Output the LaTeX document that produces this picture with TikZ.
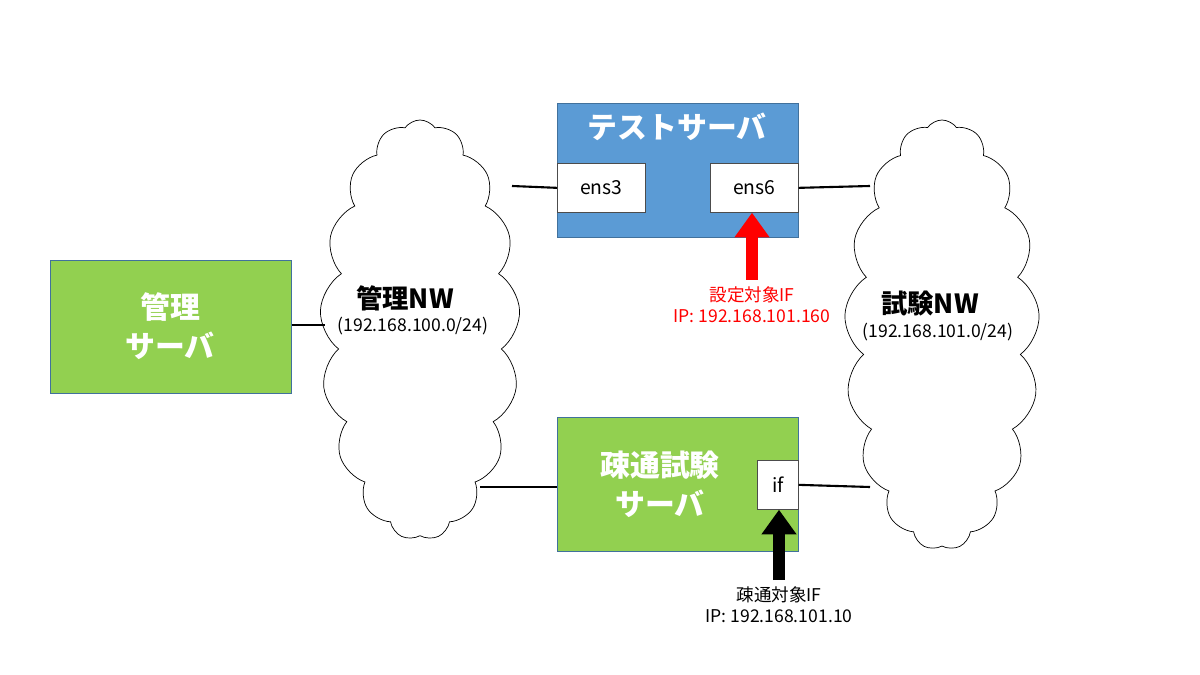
\documentclass[tikz,border=0pt]{standalone}
\usepackage{fontspec}
\setmainfont{Noto Sans CJK JP}
\usetikzlibrary{shapes.symbols,arrows.meta}
\definecolor{kgreen}{HTML}{92D050}
\definecolor{kblue}{HTML}{5B9BD5}
\definecolor{kedge}{HTML}{41719C}
\tikzset{
  box/.style={draw=kedge, anchor=north west, inner sep=0pt},
  port/.style={draw=black!70, fill=white, anchor=north west, inner sep=0pt, font=\fontsize{11}{13}\selectfont},
  title/.style={text=white, font=\bfseries\fontsize{17}{22}\selectfont, align=center},
  nw/.style={cloud, cloud puffs=17, cloud puff arc=110, draw, aspect=0.45, inner sep=0pt},
  link/.style={line width=1.2pt},
  bigarrow/.style={line width=7pt, -{Triangle[length=14pt,width=19pt]}},
  note/.style={font=\fontsize{10}{12}\selectfont, align=center}
}
\begin{document}
\begin{tikzpicture}[x=0.02cm, y=-0.02cm]
\useasboundingbox (0,0) rectangle (1200,675);

% servers
\node[box, fill=kgreen, minimum width=241*0.02cm, minimum height=133*0.02cm] (mgmt) at (50,260) {};
\node[title] at (170,326) {管理\\サーバ};
\node[box, fill=kblue, minimum width=241*0.02cm, minimum height=134*0.02cm] (test) at (557,103) {};
\node[title] at (677,127) {テストサーバ};
\node[port, minimum width=88*0.02cm, minimum height=49*0.02cm] (ens3) at (557,163) {ens3};
\node[port, minimum width=88*0.02cm, minimum height=49*0.02cm] (ens6) at (710,163) {ens6};
\node[box, fill=kgreen, minimum width=241*0.02cm, minimum height=134*0.02cm] (ping) at (557,417) {};
\node[title] at (660,484) {疎通試験\\サーバ};
\node[port, minimum width=41*0.02cm, minimum height=49*0.02cm] (if) at (757,460) {if};

% networks
\node[nw, minimum width=200*0.02cm, minimum height=420*0.02cm] (mnw) at (420,330) {};
\node[font=\bfseries\fontsize{15}{18}\selectfont] at (405,298) {管理NW};
\node[note] at (413,326) {(192.168.100.0/24)};
\node[nw, minimum width=195*0.02cm, minimum height=430*0.02cm] (tnw) at (942,335) {};
\node[font=\bfseries\fontsize{15}{18}\selectfont] at (930,304) {試験NW};
\node[note] at (938,332) {(192.168.101.0/24)};

% links
\coordinate (m1) at (325,325);
\coordinate (m2) at (512,186);
\coordinate (m3) at (480,487);
\coordinate (t1) at (870,186);
\coordinate (t2) at (870,487);
\draw[link] (mgmt.east |- m1) -- (m1);
\draw[link] (m2) -- (ens3.west);
\draw[link] (m3) -- (ping.west |- m3);
\draw[link] (ens6.east) -- (t1);
\draw[link] (if.east) -- (t2);

% target interfaces
\node[note, text=red, anchor=north] (setif) at (752,280) {設定対象IF\\IP: 192.168.101.160};
\draw[bigarrow, red] (setif.north) -- (ens6.south -| setif.north);
\node[note, anchor=north] (pingif) at (779,580) {疎通対象IF\\IP: 192.168.101.10};
\draw[bigarrow] (pingif.north) -- (if.south -| pingif.north);
\end{tikzpicture}
\end{document}
